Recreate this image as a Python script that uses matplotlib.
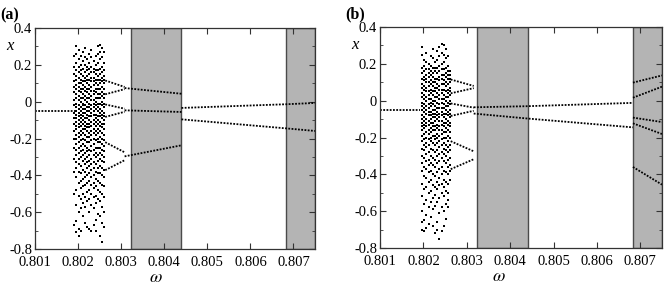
import matplotlib
matplotlib.use("Agg")
from matplotlib import pyplot as plt
from matplotlib.ticker import MultipleLocator
import numpy as np

plt.rcParams['font.family'] = ['Liberation Serif', 'DejaVu Serif']
plt.rcParams['mathtext.fontset'] = 'stix'

xticks = [0.801, 0.802, 0.803, 0.804, 0.805, 0.806, 0.807]
yticks = [-0.8, -0.6, -0.4, -0.2, 0, 0.2, 0.4]
ytick_labels = ["-0.8", "-0.6", "-0.4", "-0.2", "0", "0.2", "0.4"]

# shaded windows (same in both panels)
band1 = [0.80323, 0.80440]
band2 = [0.80683, 0.8075]

# period-1 branch before chaos
p1_w = [0.80100, 0.80192]
p1_x = [-0.053, -0.053]

# chaotic band, panel (a): one column of x values per omega
chaos_a_w = [0.80191, 0.80196, 0.80201, 0.80206, 0.80211, 0.80216, 0.80221,
             0.80226, 0.80231, 0.80236, 0.80241, 0.80246, 0.80251, 0.80256, 0.80261]
chaos_a_x = [
    [0.25, 0.19, 0.15, 0.11, 0.08, 0.05, 0.01, -0.02, -0.06, -0.09, -0.12, -0.16, -0.20, -0.25, -0.31, -0.38, -0.50, -0.67],
    [0.30, 0.26, 0.21, 0.17, 0.14, 0.12, 0.09, 0.07, 0.04, 0.02, -0.01, -0.03, -0.05, -0.07, -0.09, -0.11, -0.13, -0.15, -0.18, -0.20, -0.23, -0.26, -0.29, -0.33, -0.36, -0.41, -0.48, -0.56, -0.65, -0.71],
    [0.28, 0.23, 0.19, 0.16, 0.13, 0.10, 0.08, 0.06, 0.03, 0.01, -0.02, -0.04, -0.06, -0.08, -0.10, -0.12, -0.14, -0.17, -0.19, -0.22, -0.25, -0.28, -0.31, -0.34, -0.38, -0.44, -0.51, -0.60, -0.69, -0.73],
    [0.25, 0.20, 0.17, 0.15, 0.12, 0.10, 0.07, 0.05, 0.02, 0.00, -0.03, -0.05, -0.07, -0.09, -0.11, -0.13, -0.16, -0.18, -0.21, -0.24, -0.27, -0.30, -0.35, -0.39, -0.43, -0.47, -0.53, -0.58, -0.70],
    [0.27, 0.22, 0.18, 0.14, 0.11, 0.09, 0.07, 0.04, 0.02, -0.01, -0.02, -0.04, -0.06, -0.08, -0.10, -0.12, -0.15, -0.17, -0.20, -0.23, -0.26, -0.29, -0.32, -0.37, -0.42, -0.46, -0.50, -0.55, -0.62],
    [0.29, 0.24, 0.20, 0.16, 0.13, 0.11, 0.08, 0.06, 0.03, 0.01, -0.02, -0.04, -0.06, -0.09, -0.11, -0.13, -0.15, -0.18, -0.21, -0.24, -0.28, -0.31, -0.34, -0.38, -0.41, -0.45, -0.52, -0.57, -0.66],
    [0.23, 0.19, 0.17, 0.14, 0.12, 0.10, 0.07, 0.05, 0.02, 0.00, -0.03, -0.05, -0.07, -0.09, -0.12, -0.14, -0.16, -0.19, -0.22, -0.25, -0.27, -0.30, -0.33, -0.36, -0.40, -0.44, -0.49, -0.54, -0.68],
    [0.26, 0.21, 0.18, 0.15, 0.12, 0.09, 0.07, 0.04, 0.02, -0.01, -0.03, -0.05, -0.08, -0.10, -0.12, -0.14, -0.17, -0.19, -0.22, -0.26, -0.29, -0.32, -0.35, -0.39, -0.43, -0.48, -0.53, -0.60, -0.69],
    [0.28, 0.24, 0.19, 0.16, 0.13, 0.11, 0.08, 0.06, 0.03, 0.01, -0.02, -0.04, -0.06, -0.08, -0.11, -0.13, -0.16, -0.18, -0.21, -0.24, -0.27, -0.31, -0.34, -0.37, -0.41, -0.45, -0.50, -0.56, -0.70],
    [0.22, 0.18, 0.16, 0.13, 0.11, 0.09, 0.06, 0.04, 0.01, -0.01, -0.03, -0.05, -0.07, -0.10, -0.12, -0.15, -0.17, -0.20, -0.23, -0.26, -0.29, -0.33, -0.36, -0.40, -0.44, -0.47, -0.52, -0.58, -0.67],
    [0.25, 0.20, 0.17, 0.15, 0.12, 0.10, 0.07, 0.05, 0.02, 0.00, -0.02, -0.04, -0.07, -0.09, -0.11, -0.13, -0.16, -0.18, -0.21, -0.25, -0.28, -0.30, -0.34, -0.38, -0.42, -0.46, -0.51, -0.55, -0.64, -0.70],
    [0.30, 0.26, 0.21, 0.17, 0.14, 0.12, 0.09, 0.07, 0.04, 0.02, -0.01, -0.03, -0.05, -0.08, -0.10, -0.12, -0.15, -0.17, -0.20, -0.22, -0.25, -0.29, -0.32, -0.36, -0.39, -0.43, -0.48, -0.53, -0.61],
    [0.31, 0.27, 0.23, 0.18, 0.15, 0.12, 0.10, 0.07, 0.04, 0.02, -0.01, -0.04, -0.06, -0.08, -0.11, -0.13, -0.16, -0.19, -0.22, -0.25, -0.28, -0.31, -0.35, -0.39, -0.44, -0.49, -0.54, -0.62, -0.73],
    [0.29, 0.24, 0.19, 0.16, 0.13, 0.11, 0.08, 0.05, 0.03, 0.00, -0.02, -0.05, -0.07, -0.09, -0.12, -0.14, -0.17, -0.20, -0.23, -0.26, -0.29, -0.32, -0.36, -0.40, -0.45, -0.50, -0.57, -0.66, -0.76],
    [0.27, 0.21, 0.17, 0.14, 0.12, 0.10, 0.07, 0.04, 0.02, -0.01, -0.03, -0.06, -0.08, -0.10, -0.12, -0.15, -0.18, -0.21, -0.24, -0.27, -0.30, -0.33, -0.37, -0.41, -0.46, -0.52, -0.60, -0.68],
]

# chaotic band, panel (b)
chaos_b_w = [0.80197, 0.80202, 0.80207, 0.80212, 0.80217, 0.80222, 0.80227,
             0.80232, 0.80237, 0.80242, 0.80247, 0.80252, 0.80257, 0.80262]
chaos_b_x = [
    [0.29, 0.25, 0.18, 0.15, 0.12, 0.09, 0.07, 0.04, 0.02, -0.01, -0.03, -0.05, -0.08, -0.10, -0.12, -0.14, -0.16, -0.19, -0.22, -0.26, -0.30, -0.34, -0.38, -0.45, -0.52, -0.60, -0.66, -0.70],
    [0.22, 0.19, 0.16, 0.13, 0.11, 0.08, 0.06, 0.03, 0.01, -0.02, -0.04, -0.06, -0.09, -0.11, -0.13, -0.15, -0.18, -0.21, -0.24, -0.27, -0.31, -0.36, -0.41, -0.48, -0.56, -0.65, -0.71],
    [0.26, 0.21, 0.17, 0.14, 0.12, 0.10, 0.07, 0.05, 0.02, 0.00, -0.03, -0.05, -0.07, -0.10, -0.12, -0.14, -0.17, -0.20, -0.23, -0.25, -0.29, -0.33, -0.37, -0.42, -0.47, -0.54, -0.62, -0.69],
    [0.20, 0.17, 0.15, 0.13, 0.10, 0.08, 0.05, 0.03, 0.01, -0.02, -0.04, -0.06, -0.08, -0.11, -0.13, -0.16, -0.18, -0.21, -0.24, -0.28, -0.32, -0.35, -0.39, -0.44, -0.50, -0.58, -0.67],
    [0.24, 0.19, 0.16, 0.14, 0.11, 0.09, 0.06, 0.04, 0.01, -0.01, -0.03, -0.06, -0.08, -0.10, -0.12, -0.15, -0.17, -0.20, -0.22, -0.26, -0.30, -0.34, -0.38, -0.43, -0.49, -0.55, -0.63],
    [0.28, 0.23, 0.18, 0.15, 0.13, 0.10, 0.08, 0.05, 0.03, 0.00, -0.02, -0.05, -0.07, -0.09, -0.12, -0.14, -0.16, -0.19, -0.23, -0.27, -0.31, -0.35, -0.40, -0.46, -0.53, -0.59, -0.68],
    [0.21, 0.18, 0.16, 0.12, 0.10, 0.07, 0.05, 0.02, 0.00, -0.03, -0.05, -0.07, -0.09, -0.11, -0.14, -0.16, -0.19, -0.21, -0.24, -0.28, -0.32, -0.36, -0.41, -0.47, -0.51, -0.57, -0.72],
    [0.27, 0.22, 0.18, 0.15, 0.12, 0.09, 0.07, 0.04, 0.02, -0.01, -0.04, -0.06, -0.08, -0.10, -0.13, -0.15, -0.18, -0.20, -0.23, -0.27, -0.30, -0.34, -0.39, -0.44, -0.48, -0.55, -0.66, -0.70],
    [0.29, 0.24, 0.19, 0.16, 0.13, 0.11, 0.08, 0.06, 0.03, 0.01, -0.02, -0.04, -0.07, -0.09, -0.11, -0.14, -0.16, -0.19, -0.22, -0.25, -0.29, -0.33, -0.37, -0.42, -0.46, -0.53, -0.61, -0.75],
    [0.31, 0.26, 0.20, 0.17, 0.14, 0.12, 0.09, 0.06, 0.04, 0.01, -0.01, -0.04, -0.06, -0.08, -0.11, -0.13, -0.16, -0.18, -0.21, -0.24, -0.28, -0.31, -0.36, -0.40, -0.45, -0.50, -0.58, -0.71],
    [0.30, 0.25, 0.21, 0.17, 0.14, 0.11, 0.09, 0.06, 0.03, 0.01, -0.02, -0.04, -0.07, -0.09, -0.12, -0.14, -0.17, -0.20, -0.23, -0.26, -0.29, -0.33, -0.38, -0.43, -0.47, -0.52, -0.60, -0.68],
    [0.28, 0.23, 0.18, 0.15, 0.13, 0.10, 0.08, 0.05, 0.02, 0.00, -0.03, -0.05, -0.07, -0.10, -0.12, -0.15, -0.17, -0.20, -0.24, -0.27, -0.30, -0.34, -0.39, -0.44, -0.49, -0.56, -0.64],
    [0.24, 0.19, 0.16, 0.14, 0.12, 0.09, 0.06, 0.04, 0.02, -0.01, -0.03, -0.06, -0.08, -0.11, -0.13, -0.16, -0.19, -0.22, -0.25, -0.28, -0.32, -0.36, -0.40, -0.45, -0.50, -0.54, -0.58],
    [0.16, 0.14, 0.12, 0.10, 0.07, 0.05, 0.03, 0.00, -0.02, -0.05, -0.07, -0.09, -0.12, -0.14, -0.17, -0.20, -0.24, -0.27, -0.31, -0.35, -0.38, -0.43],
]

# period-6 branches leaving the chaotic band (start, end)
p6_a_w = [0.80263, 0.80308]
p6_b_w = [0.80263, 0.80316]
p6_x = [[0.115, 0.080], [0.040, 0.068], [-0.015, -0.038],
        [-0.083, -0.055], [-0.220, -0.275], [-0.372, -0.318]]

# panel (a): period-3 inside first window, period-2 afterwards
p3_a_w = [0.80308, 0.80440]
p3_a_x = [[0.074, 0.043], [-0.047, -0.056], [-0.297, -0.237]]
p2_a_w = [0.80440, 0.80683, 0.8075]
p2_a_x = [[-0.034, -0.014, -0.007], [-0.096, -0.145, -0.159]]

# panel (b): period-2 from first window, new orbit in second window
p2_b_w = [0.80316, 0.80440, 0.80683]
p2_b_x = [[-0.036, -0.030, -0.012], [-0.070, -0.097, -0.145]]
p5_b_w = [0.80683, 0.8075]
p5_b_x = [[0.098, 0.137], [0.016, 0.076], [-0.092, -0.116],
          [-0.123, -0.181], [-0.360, -0.456]]

fig = plt.figure(figsize=(6.64, 2.87), dpi=100)
ax_a = fig.add_axes([35 / 664, 38 / 287, 280 / 664, 221 / 287])
ax_b = fig.add_axes([380 / 664, 39 / 287, 282 / 664, 221 / 287])

dot = dict(color="black", lw=1.3, linestyle=(0, (1, 0.8)))


def draw_panel(ax, chaos_w, chaos_x, branch_sets):
    for lo, hi in (band1, band2):
        ax.axvspan(lo, hi, facecolor="#b4b4b4", edgecolor="#4a4a4a", lw=1.0, zorder=0)
    ax.plot(p1_w, p1_x, **dot)
    for w, col in zip(chaos_w, chaos_x):
        ax.scatter([w] * len(col), col, s=4.5, marker="s", color="black", linewidths=0)
    for w, xs in branch_sets:
        for x in xs:
            ax.plot(w, x, **dot)
    ax.set_xlim(0.801, 0.8075)
    ax.set_ylim(-0.8, 0.4)
    ax.set_xticks(xticks)
    ax.set_xticklabels([f"{t:.3f}" for t in xticks])
    ax.set_yticks(yticks)
    ax.set_yticklabels(ytick_labels)
    ax.yaxis.set_minor_locator(MultipleLocator(0.1))
    ax.tick_params(which="both", direction="in", top=True, right=True,
                   labelsize=10.5, color="#333333")
    ax.tick_params(axis="x", pad=5)
    ax.tick_params(axis="y", pad=2)
    ax.tick_params(which="major", length=4)
    ax.tick_params(which="minor", length=2.5)
    for s in ax.spines.values():
        s.set_color("#333333")
        s.set_linewidth(0.9)


draw_panel(ax_a, chaos_a_w, chaos_a_x,
           [(p6_a_w, p6_x), (p3_a_w, p3_a_x), (p2_a_w, p2_a_x)])
draw_panel(ax_b, chaos_b_w, chaos_b_x,
           [(p6_b_w, p6_x), (p2_b_w, p2_b_x), (p5_b_w, p5_b_x)])

for ax, tag, lx in ((ax_a, "(a)", 0.43), (ax_b, "(b)", 0.42)):
    ax.text(-0.125, 1.02, tag, transform=ax.transAxes, fontsize=11.5,
            fontweight="bold", va="bottom", ha="left")
    ax.text(-0.09, 0.92, "x", transform=ax.transAxes, fontsize=12,
            style="italic", va="center", ha="center")
    ax.text(lx, -0.13, r"$\omega$", transform=ax.transAxes, fontsize=13,
            va="center", ha="center")

fig.savefig("out.png", dpi=100)
